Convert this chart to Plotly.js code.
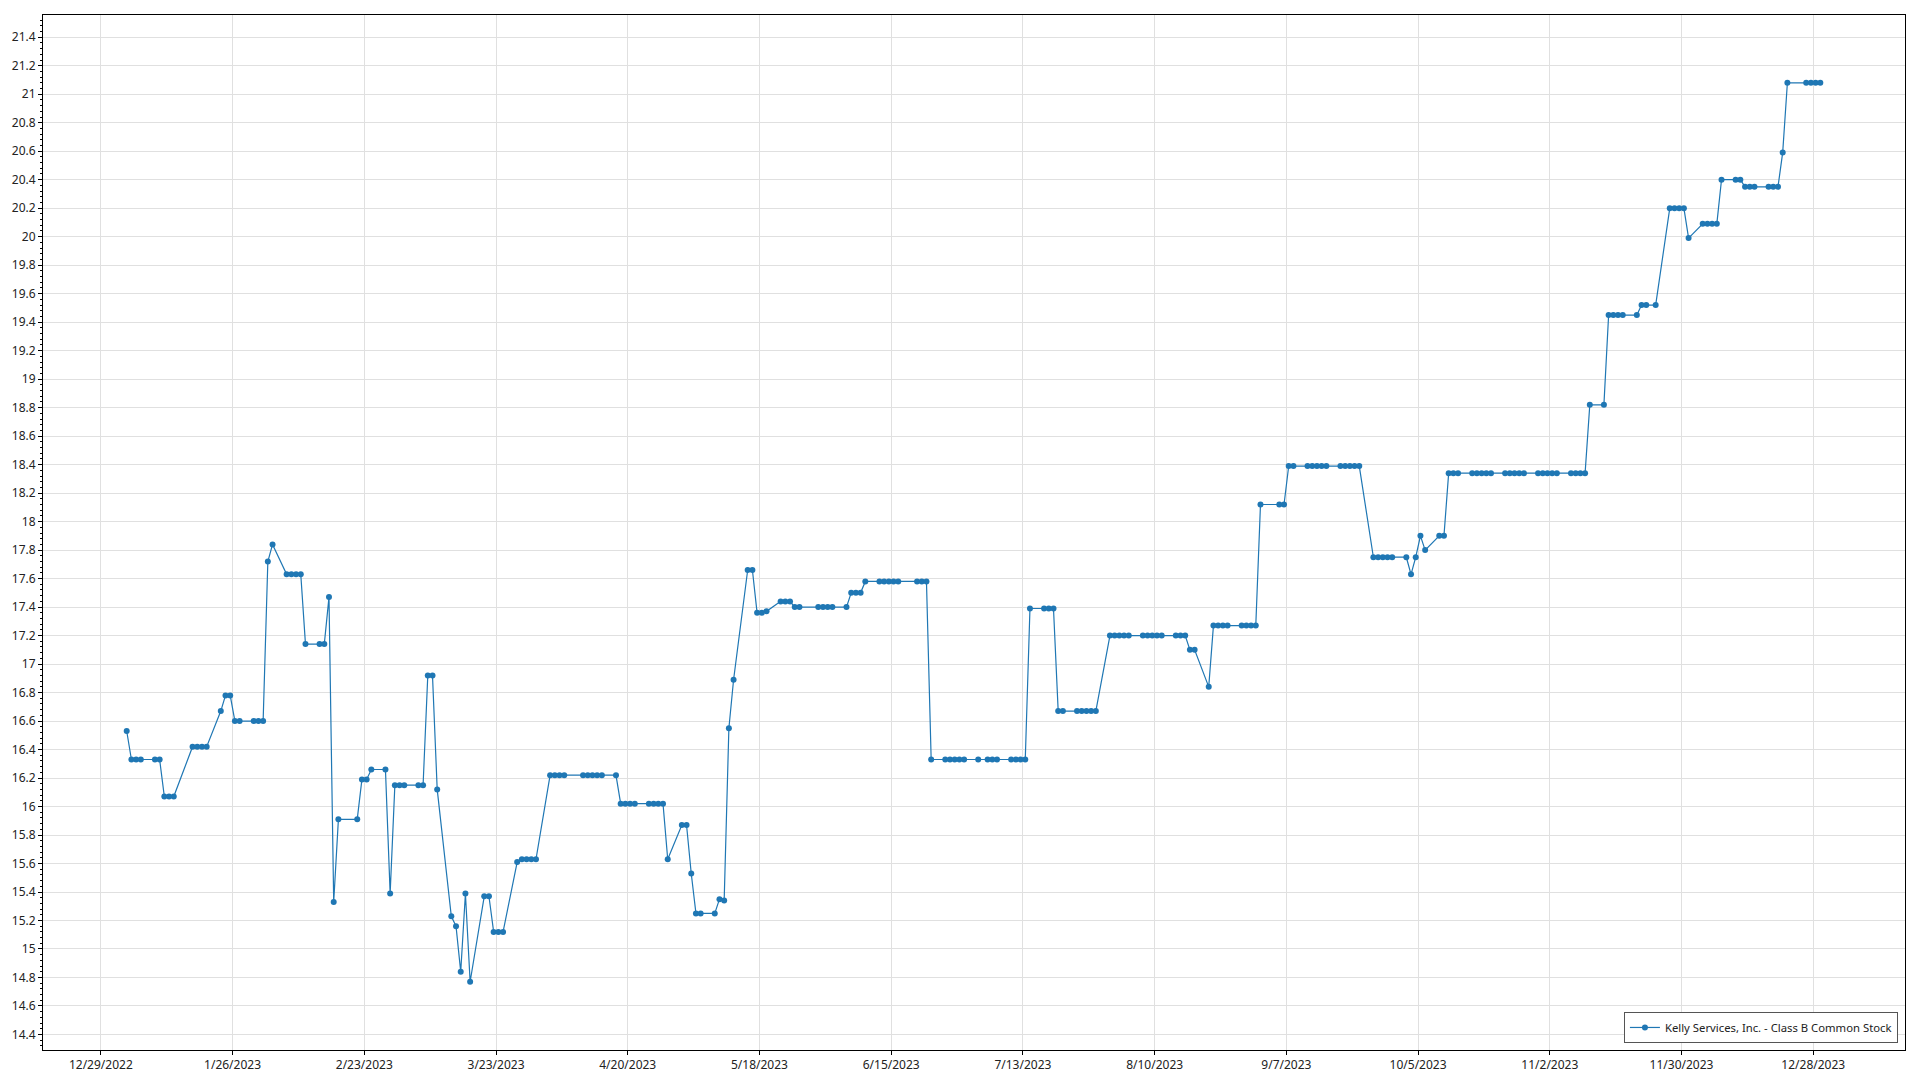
<!DOCTYPE html>
<html>
<head>
<meta charset="utf-8">
<script src="https://cdn.plot.ly/plotly-3.0.1.min.js"></script>
<style>
html,body{margin:0;padding:0;background:#ffffff;}
#chart{width:1920px;height:1080px;}
</style>
</head>
<body>
<div id="chart"></div>
<script>
const seriesName = "Kelly Services, Inc. - Class B Common Stock";

const dates = [
  "2023-01-03","2023-01-04","2023-01-05","2023-01-06","2023-01-09","2023-01-10","2023-01-11","2023-01-12","2023-01-13",
  "2023-01-17","2023-01-18","2023-01-19","2023-01-20","2023-01-23","2023-01-24","2023-01-25","2023-01-26","2023-01-27",
  "2023-01-30","2023-01-31",
  "2023-02-01","2023-02-02","2023-02-03","2023-02-06","2023-02-07","2023-02-08","2023-02-09","2023-02-10","2023-02-13",
  "2023-02-14","2023-02-15","2023-02-16","2023-02-17","2023-02-21","2023-02-22","2023-02-23","2023-02-24","2023-02-27",
  "2023-02-28",
  "2023-03-01","2023-03-02","2023-03-03","2023-03-06","2023-03-07","2023-03-08","2023-03-09","2023-03-10","2023-03-13",
  "2023-03-14","2023-03-15","2023-03-16","2023-03-17","2023-03-20","2023-03-21","2023-03-22","2023-03-23","2023-03-24",
  "2023-03-27","2023-03-28","2023-03-29","2023-03-30","2023-03-31",
  "2023-04-03","2023-04-04","2023-04-05","2023-04-06","2023-04-10","2023-04-11","2023-04-12","2023-04-13","2023-04-14",
  "2023-04-17","2023-04-18","2023-04-19","2023-04-20","2023-04-21","2023-04-24","2023-04-25","2023-04-26","2023-04-27",
  "2023-04-28",
  "2023-05-01","2023-05-02","2023-05-03","2023-05-04","2023-05-05","2023-05-08","2023-05-09","2023-05-10","2023-05-11",
  "2023-05-12","2023-05-15","2023-05-16","2023-05-17","2023-05-18","2023-05-19","2023-05-22","2023-05-23","2023-05-24",
  "2023-05-25","2023-05-26","2023-05-30","2023-05-31",
  "2023-06-01","2023-06-02","2023-06-05","2023-06-06","2023-06-07","2023-06-08","2023-06-09","2023-06-12","2023-06-13",
  "2023-06-14","2023-06-15","2023-06-16","2023-06-20","2023-06-21","2023-06-22","2023-06-23","2023-06-26","2023-06-27",
  "2023-06-28","2023-06-29","2023-06-30",
  "2023-07-03","2023-07-05","2023-07-06","2023-07-07","2023-07-10","2023-07-11","2023-07-12","2023-07-13","2023-07-14",
  "2023-07-17","2023-07-18","2023-07-19","2023-07-20","2023-07-21","2023-07-24","2023-07-25","2023-07-26","2023-07-27",
  "2023-07-28","2023-07-31",
  "2023-08-01","2023-08-02","2023-08-03","2023-08-04","2023-08-07","2023-08-08","2023-08-09","2023-08-10","2023-08-11",
  "2023-08-14","2023-08-15","2023-08-16","2023-08-17","2023-08-18","2023-08-21","2023-08-22","2023-08-23","2023-08-24",
  "2023-08-25","2023-08-28","2023-08-29","2023-08-30","2023-08-31",
  "2023-09-01","2023-09-05","2023-09-06","2023-09-07","2023-09-08","2023-09-11","2023-09-12","2023-09-13","2023-09-14",
  "2023-09-15","2023-09-18","2023-09-19","2023-09-20","2023-09-21","2023-09-22","2023-09-25","2023-09-26","2023-09-27",
  "2023-09-28","2023-09-29",
  "2023-10-02","2023-10-03","2023-10-04","2023-10-05","2023-10-06","2023-10-09","2023-10-10","2023-10-11","2023-10-12",
  "2023-10-13","2023-10-16","2023-10-17","2023-10-18","2023-10-19","2023-10-20","2023-10-23","2023-10-24","2023-10-25",
  "2023-10-26","2023-10-27","2023-10-30","2023-10-31",
  "2023-11-01","2023-11-02","2023-11-03","2023-11-06","2023-11-07","2023-11-08","2023-11-09","2023-11-10","2023-11-13",
  "2023-11-14","2023-11-15","2023-11-16","2023-11-17","2023-11-20","2023-11-21","2023-11-22","2023-11-24","2023-11-27",
  "2023-11-28","2023-11-29","2023-11-30",
  "2023-12-01","2023-12-04","2023-12-05","2023-12-06","2023-12-07","2023-12-08","2023-12-11","2023-12-12","2023-12-13",
  "2023-12-14","2023-12-15","2023-12-18","2023-12-19","2023-12-20","2023-12-21","2023-12-22","2023-12-26","2023-12-27",
  "2023-12-28","2023-12-29"
];

const prices = [
  16.53,16.33,16.33,16.33,16.33,16.33,16.07,16.07,16.07,
  16.42,16.42,16.42,16.42,16.67,16.78,16.78,16.60,16.60,
  16.60,16.60,
  16.60,17.72,17.84,17.63,17.63,17.63,17.63,17.14,17.14,
  17.14,17.47,15.33,15.91,15.91,16.19,16.19,16.26,16.26,
  15.39,
  16.15,16.15,16.15,16.15,16.15,16.92,16.92,16.12,15.23,
  15.16,14.84,15.39,14.77,15.37,15.37,15.12,15.12,15.12,
  15.61,15.63,15.63,15.63,15.63,
  16.22,16.22,16.22,16.22,16.22,16.22,16.22,16.22,16.22,
  16.22,16.02,16.02,16.02,16.02,16.02,16.02,16.02,16.02,
  15.63,
  15.87,15.87,15.53,15.25,15.25,15.25,15.35,15.34,16.55,
  16.89,17.66,17.66,17.36,17.36,17.37,17.44,17.44,17.44,
  17.40,17.40,17.40,17.40,
  17.40,17.40,17.40,17.50,17.50,17.50,17.58,17.58,17.58,
  17.58,17.58,17.58,17.58,17.58,17.58,16.33,16.33,16.33,
  16.33,16.33,16.33,
  16.33,16.33,16.33,16.33,16.33,16.33,16.33,16.33,17.39,
  17.39,17.39,17.39,16.67,16.67,16.67,16.67,16.67,16.67,
  16.67,17.20,
  17.20,17.20,17.20,17.20,17.20,17.20,17.20,17.20,17.20,
  17.20,17.20,17.20,17.10,17.10,16.84,17.27,17.27,17.27,
  17.27,17.27,17.27,17.27,17.27,
  18.12,18.12,18.12,18.39,18.39,18.39,18.39,18.39,18.39,
  18.39,18.39,18.39,18.39,18.39,18.39,17.75,17.75,17.75,
  17.75,17.75,
  17.75,17.63,17.75,17.90,17.80,17.90,17.90,18.34,18.34,
  18.34,18.34,18.34,18.34,18.34,18.34,18.34,18.34,18.34,
  18.34,18.34,18.34,18.34,
  18.34,18.34,18.34,18.34,18.34,18.34,18.34,18.82,18.82,
  19.45,19.45,19.45,19.45,19.45,19.52,19.52,19.52,20.20,
  20.20,20.20,20.20,
  19.99,20.09,20.09,20.09,20.09,20.40,20.40,20.40,20.35,
  20.35,20.35,20.35,20.35,20.35,20.59,21.08,21.08,21.08,
  21.08,21.08
];

const xRange = ["2022-12-16 17:00", "2024-01-16 12:00"];
const xTick0 = "2022-12-29";
const yRange = [14.291, 21.556];

const lineColor = "#1f77b4";
const fontFamily = "'Noto Sans', 'Open Sans', sans-serif";

const trace = {
  type: "scatter",
  mode: "lines+markers",
  x: dates.map(d => d + " 12:00"),
  y: prices,
  name: seriesName,
  line: {color: lineColor, width: 1.2},
  marker: {color: lineColor, size: 6},
  showlegend: true
};

const layout = {
  width: 1920,
  height: 1080,
  paper_bgcolor: "#ffffff",
  plot_bgcolor: "#ffffff",
  margin: {l: 43, r: 15, t: 15, b: 30, pad: 0},
  font: {family: fontFamily, size: 12, color: "#222222"},
  showlegend: true,
  legend: {
    x: 0.9962, y: 0.0068, xanchor: "right", yanchor: "bottom",
    bgcolor: "#ffffff", bordercolor: "#555555", borderwidth: 1,
    font: {family: fontFamily, size: 11.3, color: "#222222"},
    itemwidth: 30
  },
  xaxis: {
    type: "date",
    range: xRange,
    tick0: xTick0,
    dtick: 28 * 86400000,
    tickformat: "%-m/%-d/%Y",
    showgrid: true,
    gridcolor: "#e0e0e0",
    gridwidth: 1,
    zeroline: false,
    showline: true,
    linecolor: "#000000",
    linewidth: 1,
    mirror: true,
    ticks: "outside",
    ticklen: 4,
    tickcolor: "#000000",
    tickfont: {family: fontFamily, size: 12, color: "#222222"}
  },
  yaxis: {
    range: yRange,
    tick0: 0,
    dtick: 0.2,
    showgrid: true,
    gridcolor: "#e0e0e0",
    gridwidth: 1,
    zeroline: false,
    showline: true,
    linecolor: "#000000",
    linewidth: 1,
    mirror: true,
    ticks: "outside",
    ticklen: 4,
    tickcolor: "#000000",
    tickfont: {family: fontFamily, size: 12, color: "#222222"},
    minor: {ticks: "outside", ticklen: 2, tickcolor: "#000000", dtick: 0.04, showgrid: false}
  }
};

Plotly.newPlot("chart", [trace], layout, {displayModeBar: false, staticPlot: true});
</script>
</body>
</html>
